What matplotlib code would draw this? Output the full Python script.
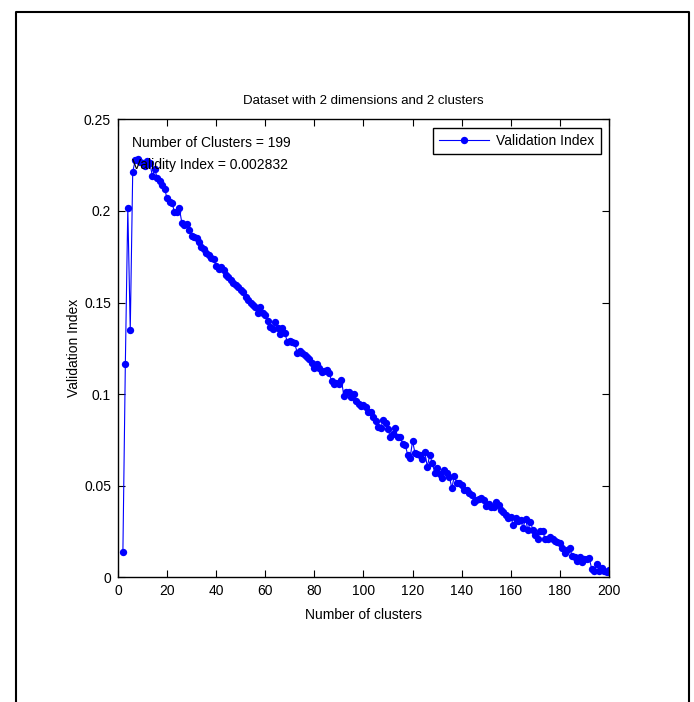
import numpy as np
import matplotlib
matplotlib.use("Agg")
import matplotlib.pyplot as plt
from matplotlib.lines import Line2D

# number of clusters tested (2..200) and the validation index read per cluster
n_clusters = np.arange(2, 201)
index_values = [
    # 2-9
    0.0135, 0.1165, 0.2015, 0.1348, 0.2212, 0.2278, 0.2282, 0.2268,
    # 10-19
    0.2262, 0.2245, 0.2272, 0.2260, 0.2192, 0.2228, 0.2180, 0.2166, 0.2140, 0.2120,
    # 20-29
    0.2069, 0.2048, 0.2044, 0.1996, 0.1995, 0.2016, 0.1936, 0.1925, 0.1929, 0.1895,
    # 30-39
    0.1863, 0.1858, 0.1854, 0.1830, 0.1805, 0.1790, 0.1772, 0.1760, 0.1745, 0.1735,
    # 40-49
    0.1700, 0.1681, 0.1692, 0.1675, 0.1650, 0.1640, 0.1622, 0.1605, 0.1598, 0.1585,
    # 50-59
    0.1568, 0.1560, 0.1528, 0.1515, 0.1500, 0.1488, 0.1474, 0.1444, 0.1477, 0.1441,
    # 60-69
    0.1430, 0.1400, 0.1368, 0.1353, 0.1392, 0.1362, 0.1326, 0.1362, 0.1332, 0.1283,
    # 70-79
    0.1291, 0.1285, 0.1277, 0.1226, 0.1235, 0.1222, 0.1213, 0.1200, 0.1190, 0.1172,
    # 80-89
    0.1144, 0.1162, 0.1140, 0.1122, 0.1127, 0.1131, 0.1116, 0.1071, 0.1053, 0.1058,
    # 90-99
    0.1055, 0.1077, 0.0991, 0.1013, 0.1010, 0.0985, 0.0998, 0.0962, 0.0945, 0.0934,
    # 100-109
    0.0940, 0.0931, 0.0900, 0.0903, 0.0876, 0.0854, 0.0821, 0.0812, 0.0858, 0.0843,
    # 110-119
    0.0807, 0.0763, 0.0780, 0.0812, 0.0763, 0.0763, 0.0727, 0.0724, 0.0667, 0.0652,
    # 120-129
    0.0743, 0.0676, 0.0672, 0.0667, 0.0643, 0.0681, 0.0603, 0.0667, 0.0625, 0.0570,
    # 130-139
    0.0594, 0.0563, 0.0543, 0.0585, 0.0570, 0.0548, 0.0485, 0.0554, 0.0512, 0.0515,
    # 140-149
    0.0503, 0.0475, 0.0475, 0.0460, 0.0448, 0.0411, 0.0421, 0.0426, 0.0433, 0.0421,
    # 150-159
    0.0388, 0.0399, 0.0384, 0.0381, 0.0411, 0.0393, 0.0366, 0.0353, 0.0339, 0.0321,
    # 160-169
    0.0330, 0.0284, 0.0321, 0.0308, 0.0312, 0.0270, 0.0317, 0.0257, 0.0303, 0.0257,
    # 170-179
    0.0230, 0.0206, 0.0251, 0.0253, 0.0206, 0.0206, 0.0217, 0.0206, 0.0198, 0.0189,
    # 180-189
    0.0184, 0.0160, 0.0133, 0.0148, 0.0160, 0.0117, 0.0111, 0.0087, 0.0107, 0.0084,
    # 190-199
    0.0096, 0.0096, 0.0102, 0.0042, 0.0035, 0.0069, 0.0035, 0.0048, 0.0032, 0.002832,
    # 200
    0.0039,
]

best_k = 199
best_index = 0.002832
xticks = [0, 20, 40, 60, 80, 100, 120, 140, 160, 180, 200]
yticks = [0, 0.05, 0.1, 0.15, 0.2, 0.25]
ytick_labels = ["0", "0.05", "0.1", "0.15", "0.2", "0.25"]

plt.rcParams["font.family"] = ["Liberation Sans", "DejaVu Sans"]
plt.rcParams["font.size"] = 10

fig = plt.figure(figsize=(6.94, 7.02), dpi=100)
ax = fig.add_axes([0.170, 0.178, 0.7075, 0.6518])

ax.plot(n_clusters, index_values, "-o", color="#0000ff", lw=0.8,
        ms=5.3, mew=0, label="Validation Index")

ax.set_xlim(0, 200)
ax.set_ylim(0, 0.25)
ax.set_xticks(xticks)
ax.set_yticks(yticks)
ax.set_yticklabels(ytick_labels)
ax.tick_params(direction="in", length=5, width=0.8, top=True, right=True,
               pad=5, labelsize=10)
for s in ax.spines.values():
    s.set_linewidth(1.0)

ax.set_title("Dataset with 2 dimensions and 2 clusters", fontsize=9.5, pad=11)
ax.set_xlabel("Number of clusters", fontsize=10, labelpad=7)
ax.set_ylabel("Validation Index", fontsize=10, labelpad=2)

ax.text(5.7, 0.2372, f"Number of Clusters = {best_k}", fontsize=10, va="center")
ax.text(5.7, 0.2251, f"Validity Index = {best_index}", fontsize=10, va="center")

ax.legend(loc="upper right", fancybox=False, edgecolor="black", framealpha=1,
          handlelength=3.6, borderaxespad=0.6, fontsize=10,
          borderpad=0.45, handletextpad=0.5)

# outer frame around the whole picture (left, top, right edges)
fx0, fx1, fy1 = 16 / 694, 689 / 694, 1 - 12 / 702
fig.add_artist(Line2D([fx0, fx0, fx1, fx1], [0, fy1, fy1, 0],
                      transform=fig.transFigure, color="black", lw=1.5))

fig.savefig("out.png", dpi=100, facecolor="white")
